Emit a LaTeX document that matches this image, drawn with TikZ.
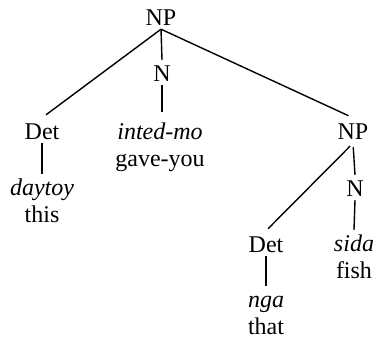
\documentclass[tikz,border=0pt]{standalone}
\usepackage{fontspec}
\setmainfont{Liberation Serif}
\newcommand{\firstline}{\rule{0pt}{17pt}}
\begin{document}
\begin{tikzpicture}[x=1pt,y=-1pt,
  lab/.style={font=\fontsize{24}{27.5}\selectfont, inner xsep=0pt, inner ysep=4pt,
              text height=17pt, anchor=base},
  leaf/.style={font=\fontsize{24}{27.5}\selectfont, inner xsep=0pt, inner ysep=4pt,
              anchor=base, align=center},
  edge/.style={draw=black, line width=1.4pt}]
\useasboundingbox (0,0) rectangle (376,341);
\node[lab]  (np0)  at (161,25)  {NP};
\node[lab]  (n1)   at (162,81)  {N};
\node[lab]  (det1) at (42,139)  {Det};
\node[leaf] (lf1)  at (160,166.5) {\firstline\textit{inted-mo}\\gave-you};
\node[lab]  (np2)  at (353,139) {NP};
\node[leaf] (lf2)  at (42,222.5)  {\firstline\textit{daytoy}\\this};
\node[lab]  (n2)   at (355,196) {N};
\node[lab]  (det2) at (266,252) {Det};
\node[leaf] (lf3)  at (354,278.5) {\firstline\textit{sida}\\fish};
\node[leaf] (lf4)  at (266,334.5) {\firstline\textit{nga}\\that};
\draw[edge] (np0.south) -- (n1.north);
\draw[edge, shorten >=5pt] (np0.south) -- (det1.north);
\draw[edge, shorten >=5pt] (np0.south) -- (np2.north);
\draw[edge, shorten >=6pt] (n1.south) -- (n1.south |- lf1.north);
\draw[edge] (det1.south) -- (lf2.north);
\draw[edge, shorten <=4pt] (np2.south) -- (n2.north);
\draw[edge, shorten <=4pt, shorten >=3pt] (np2.south) -- (det2.north);
\draw[edge] (n2.south) -- (lf3.north);
\draw[edge] (det2.south) -- (lf4.north);
\end{tikzpicture}
\end{document}
